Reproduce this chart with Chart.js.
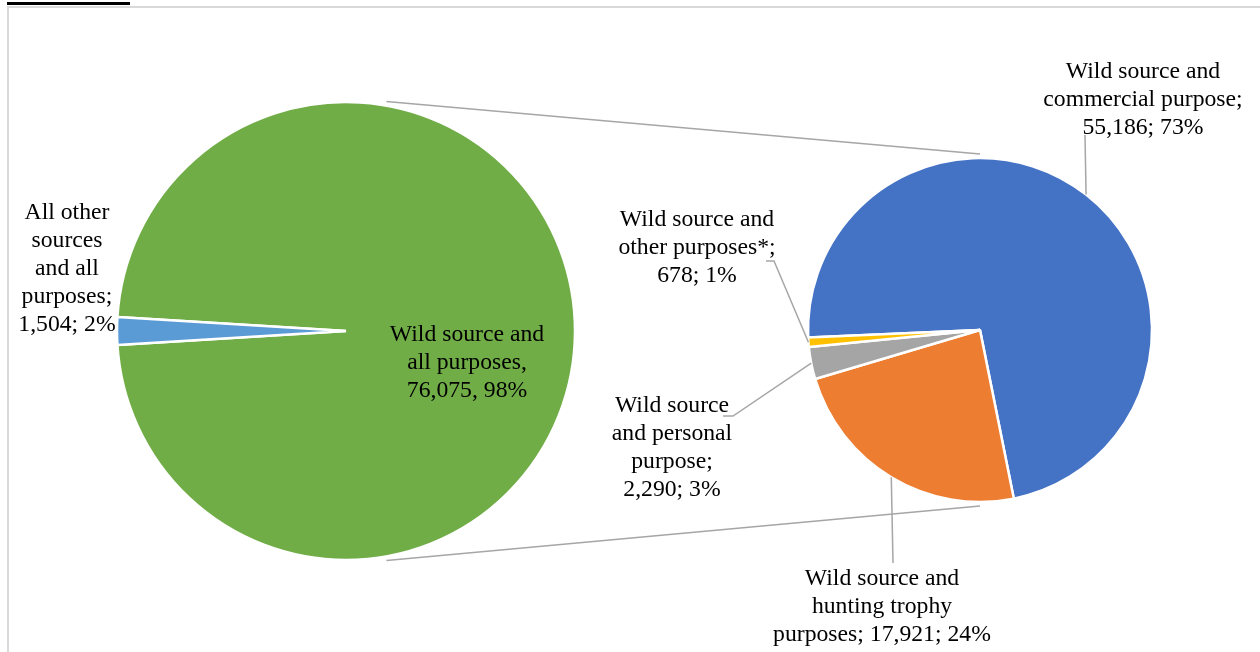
<!DOCTYPE html>
<html>
<head>
<meta charset="utf-8">
<script src="https://cdn.jsdelivr.net/npm/chart.js@4"></script>
<style>
  body { margin: 0; background: #fff; }
  #wrap { position: relative; width: 1260px; height: 652px; overflow: hidden; }
  #frame { position: absolute; left: 7px; top: 6px; width: 1300px; height: 700px;
           border-left: 2px solid #d9d9d9; border-top: 2px solid #d9d9d9; }
  #tag { position: absolute; left: 7px; top: 2px; width: 123px; height: 3px; background: #000; }
  canvas { position: absolute; left: 0; top: 0; }
</style>
</head>
<body>
<div id="wrap">
  <div id="frame"></div>
  <div id="tag"></div>
  <canvas id="mainPie" width="1260" height="652"></canvas>
  <canvas id="subPie" width="1260" height="652"></canvas>
</div>
<script>
// first pie: wild source vs everything else
const mainLabels = ['Wild source and all purposes', 'All other sources and all purposes'];
const mainValues = [76075, 1504];
const mainColors = ['#70ad47', '#5b9bd5'];

// second pie: wild source split by purpose
const subLabels = [
  'Wild source and commercial purpose',
  'Wild source and hunting trophy purposes',
  'Wild source and personal purpose',
  'Wild source and other purposes*'
];
const subValues = [55186, 17921, 2290, 678];
const subColors = ['#4472c4', '#ed7d31', '#a5a5a5', '#ffc000'];

const FONT = '23.7px "Liberation Serif", "Times New Roman", serif';
const LINE_H = 28;
const LEADER = '#a6a6a6';

// where each label block sits, how wide it wraps, and the leader elbow
const mainLayout = [
  { x: 467, y: 362.5, maxW: 160, sep: ', ' },
  { x: 67, y: 269, maxW: 100, sep: '; ' }
];
const subLayout = [
  { x: 1143, y: 100, maxW: 205, sep: '; ', leader: [[1085, 135]] },
  { x: 882, y: 606.5, maxW: 225, sep: '; ', leader: [[893, 563]] },
  { x: 672, y: 448, maxW: 130, sep: '; ', leader: [[723, 416], [733, 416]] },
  { x: 697, y: 248, maxW: 165, sep: '; ', leader: [[766, 261], [774, 261]] }
];

function wrapText(ctx, text, maxW) {
  const words = text.split(' ');
  const lines = [];
  let cur = '';
  words.forEach(w => {
    const test = cur ? cur + ' ' + w : w;
    if (cur && ctx.measureText(test).width > maxW) {
      lines.push(cur);
      cur = w;
    } else {
      cur = test;
    }
  });
  if (cur) lines.push(cur);
  return lines;
}

function labelPlugin(id, names, layout) {
  return {
    id: id,
    afterDraw(chart) {
      const ctx = chart.ctx;
      const meta = chart.getDatasetMeta(0);
      const vals = chart.data.datasets[0].data;
      const total = vals.reduce((a, b) => a + b, 0);
      ctx.save();
      ctx.font = FONT;
      ctx.fillStyle = '#000';
      ctx.textAlign = 'center';
      ctx.textBaseline = 'middle';
      layout.forEach((lb, i) => {
        const arc = meta.data[i];
        const pct = Math.round(vals[i] / total * 100);
        const text = names[i] + lb.sep + vals[i].toLocaleString('en-US') + lb.sep + pct + '%';
        const lines = wrapText(ctx, text, lb.maxW);
        const top = lb.y - (lines.length - 1) * LINE_H / 2;
        lines.forEach((l, k) => ctx.fillText(l, lb.x, top + k * LINE_H));
        if (lb.leader) {
          const mid = (arc.startAngle + arc.endAngle) / 2;
          const ex = arc.x + Math.cos(mid) * arc.outerRadius;
          const ey = arc.y + Math.sin(mid) * arc.outerRadius;
          ctx.beginPath();
          ctx.strokeStyle = LEADER;
          ctx.lineWidth = 1.5;
          ctx.moveTo(lb.leader[0][0], lb.leader[0][1]);
          lb.leader.slice(1).forEach(p => ctx.lineTo(p[0], p[1]));
          ctx.lineTo(ex, ey);
          ctx.stroke();
        }
      });
      ctx.restore();
    }
  };
}

const mainChart = new Chart(document.getElementById('mainPie'), {
  type: 'pie',
  data: {
    labels: mainLabels,
    datasets: [{ data: mainValues, backgroundColor: mainColors, borderColor: '#fff', borderWidth: 2.5 }]
  },
  options: {
    responsive: false,
    animation: false,
    devicePixelRatio: 1,
    rotation: 273.5,
    radius: 229,
    layout: { padding: { left: 0, right: 568, top: 10, bottom: 0 } },
    plugins: { legend: { display: false }, tooltip: { enabled: false } }
  },
  plugins: [labelPlugin('mainLabels', mainLabels, mainLayout)]
});

// lines joining the first pie to the top and bottom of the second one
const seriesLines = {
  id: 'seriesLines',
  afterDraw(chart) {
    const a = mainChart.getDatasetMeta(0).data[0];
    const b = chart.getDatasetMeta(0).data[0];
    const ctx = chart.ctx;
    const gap = 4;
    const tilt = 10 * Math.PI / 180;
    const r1 = a.outerRadius + gap;
    const r2 = b.outerRadius + gap;
    ctx.save();
    ctx.strokeStyle = LEADER;
    ctx.lineWidth = 1.5;
    ctx.beginPath();
    ctx.moveTo(a.x + Math.sin(tilt) * r1, a.y - Math.cos(tilt) * r1);
    ctx.lineTo(b.x, b.y - r2);
    ctx.moveTo(a.x + Math.sin(tilt) * r1, a.y + Math.cos(tilt) * r1);
    ctx.lineTo(b.x, b.y + r2);
    ctx.stroke();
    ctx.restore();
  }
};

const subChart = new Chart(document.getElementById('subPie'), {
  type: 'pie',
  data: {
    labels: subLabels,
    datasets: [{ data: subValues, backgroundColor: subColors, borderColor: '#fff', borderWidth: 2.5 }]
  },
  options: {
    responsive: false,
    animation: false,
    devicePixelRatio: 1,
    rotation: 267.5,
    radius: 172,
    layout: { padding: { left: 700, right: 0, top: 8, bottom: 0 } },
    plugins: { legend: { display: false }, tooltip: { enabled: false } }
  },
  plugins: [seriesLines, labelPlugin('subLabels', subLabels, subLayout)]
});
</script>
</body>
</html>
